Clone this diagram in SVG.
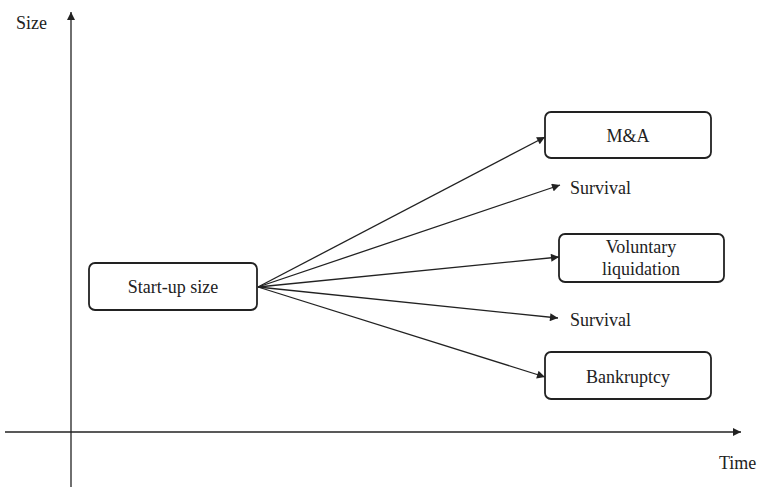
<svg xmlns="http://www.w3.org/2000/svg" width="759" height="487" viewBox="0 0 759 487">
<style>
text{font-family:"Liberation Serif","Times New Roman",serif;font-size:18px;fill:#222}
.box{fill:#fff;stroke:#222;stroke-width:1.8}
.ln{stroke:#222;stroke-width:1.3;fill:none}
</style>
<defs>
<marker id="ah" viewBox="0 0 10 10" refX="10" refY="5" markerWidth="10" markerHeight="8" markerUnits="userSpaceOnUse" orient="auto">
<path d="M0,0 L10,5 L0,10 z" fill="#222"/>
</marker>
</defs>
<rect width="759" height="487" fill="#fff"/>
<g id="axes">
<line class="ln" x1="71" y1="487" x2="71" y2="12" marker-end="url(#ah)"/>
<line class="ln" x1="5" y1="432" x2="741" y2="432" marker-end="url(#ah)"/>
<text x="16" y="29">Size</text>
<text x="719" y="469">Time</text>
</g>
<g id="connectors">
<line class="ln" x1="258" y1="287" x2="545" y2="137" marker-end="url(#ah)"/>
<line class="ln" x1="258" y1="287" x2="560" y2="185" marker-end="url(#ah)"/>
<line class="ln" x1="258" y1="287" x2="559" y2="257" marker-end="url(#ah)"/>
<line class="ln" x1="258" y1="287" x2="558" y2="318" marker-end="url(#ah)"/>
<line class="ln" x1="258" y1="287" x2="545" y2="377" marker-end="url(#ah)"/>
</g>
<g id="startup">
<rect class="box" x="89" y="263" width="168" height="47" rx="6"/>
<text x="173" y="293" text-anchor="middle">Start-up size</text>
</g>
<g id="ma">
<rect class="box" x="545" y="112" width="166" height="46" rx="6"/>
<text x="628" y="142" text-anchor="middle">M&amp;A</text>
</g>
<g id="survival1">
<text x="570" y="194">Survival</text>
</g>
<g id="voluntary">
<rect class="box" x="559" y="234" width="165" height="48" rx="6"/>
<text x="641" y="253" text-anchor="middle">Voluntary</text>
<text x="641" y="275" text-anchor="middle">liquidation</text>
</g>
<g id="survival2">
<text x="570" y="326">Survival</text>
</g>
<g id="bankruptcy">
<rect class="box" x="545" y="352" width="166" height="47" rx="6"/>
<text x="628" y="383" text-anchor="middle">Bankruptcy</text>
</g>
</svg>
